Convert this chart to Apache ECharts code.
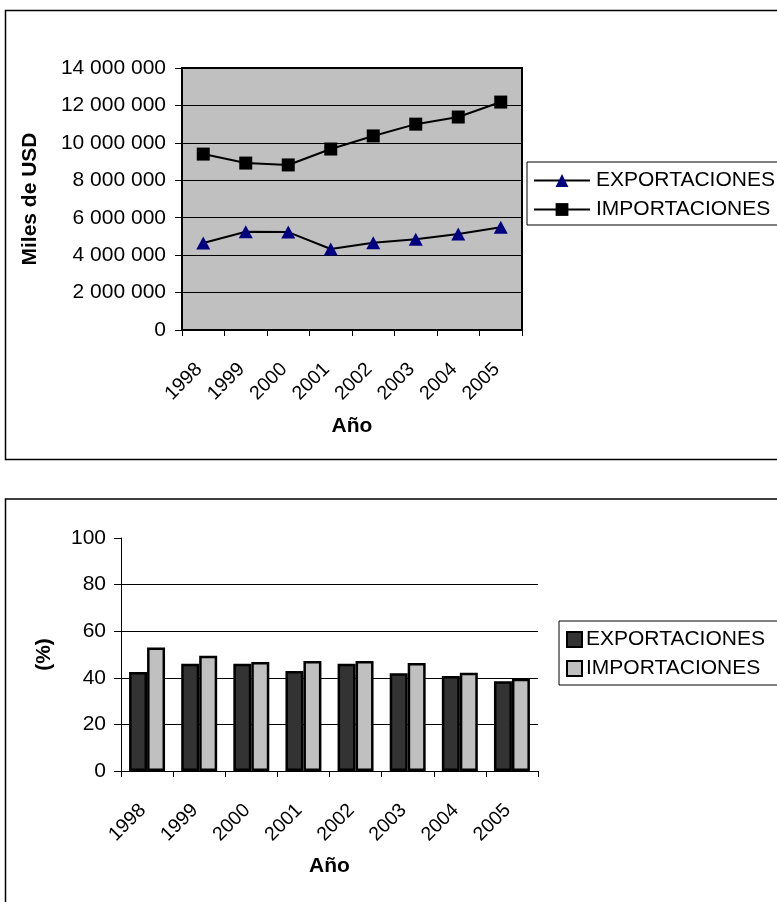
<!DOCTYPE html>
<html>
<head>
<meta charset="utf-8">
<script src="https://cdn.jsdelivr.net/npm/echarts@6/dist/echarts.min.js"></script>
<style>
  html, body { margin: 0; padding: 0; background: #fff; }
  #chart { width: 777px; height: 902px; }
</style>
</head>
<body>
<div id="chart"></div>
<script>
// Years on the category axis
const years = ['1998', '1999', '2000', '2001', '2002', '2003', '2004', '2005'];

// Trade values, thousands of USD
const exportaciones = [4650000, 5250000, 5230000, 4330000, 4660000, 4850000, 5130000, 5490000];
const importaciones = [9400000, 8920000, 8820000, 9670000, 10370000, 11000000, 11380000, 12180000];

// Shares in percent
const exportacionesPct = [42.5, 46.0, 46.0, 42.9, 46.0, 41.9, 40.8, 38.5];
const importacionesPct = [53.0, 49.5, 46.8, 47.2, 47.2, 46.4, 42.2, 39.6];

const FONT = 'Liberation Sans, Arial, sans-serif';
const FS = 21;

function thousands(v) {
  return String(v).replace(/\B(?=(\d{3})+(?!\d))/g, ' ');
}

const chart = echarts.init(document.getElementById('chart'), null, { renderer: 'canvas' });

const baseText = { fontFamily: FONT, fontSize: FS, color: '#000' };
const yearLabel = Object.assign({}, baseText, { fontSize: 19.5, rotate: 45, margin: 32, padding: [0, 6, 0, 0] });

chart.setOption({
  animation: false,
  backgroundColor: '#fff',
  textStyle: { fontFamily: FONT },
  graphic: [
    { type: 'rect', z: -10, silent: true,
      shape: { x: 5.5, y: 10.5, width: 820, height: 449 },
      style: { fill: 'none', stroke: '#000', lineWidth: 1.5 } },
    { type: 'rect', z: -10, silent: true,
      shape: { x: 5.5, y: 499, width: 820, height: 460 },
      style: { fill: 'none', stroke: '#000', lineWidth: 1.5 } }
  ],
  grid: [
    { left: 182, top: 68, width: 340, height: 262, show: true,
      backgroundColor: '#c0c0c0', borderColor: '#000', borderWidth: 2 },
    { left: 121, top: 538, width: 417, height: 233 }
  ],
  legend: [
    {
      left: 527, top: 162, orient: 'vertical',
      padding: [8, 12, 5, 6], itemGap: 8,
      itemWidth: 56, itemHeight: 16,
      borderColor: '#000', borderWidth: 1,
      textStyle: Object.assign({}, baseText, { padding: [0, 0, 0, 1] }),
      data: ['EXPORTACIONES', 'IMPORTACIONES']
    },
    {
      left: 559, top: 621, orient: 'vertical',
      padding: [8, 12, 6, 7], itemGap: 8,
      itemWidth: 15, itemHeight: 15,
      borderColor: '#000', borderWidth: 1,
      textStyle: Object.assign({}, baseText, { padding: [0, 0, 0, -1] }),
      data: [
        { name: 'EXPORTACIONES ', icon: 'rect' },
        { name: 'IMPORTACIONES ', icon: 'rect' }
      ]
    }
  ],
  xAxis: [
    {
      gridIndex: 0, type: 'category', data: years, boundaryGap: true,
      name: 'Año', nameLocation: 'middle', nameGap: 86,
      nameTextStyle: Object.assign({}, baseText, { fontWeight: 'bold' }),
      axisLine: { lineStyle: { color: '#000', width: 2 } },
      axisTick: { show: true, length: 6, lineStyle: { color: '#000', width: 1 } },
      axisLabel: yearLabel,
      splitLine: { show: false }
    },
    {
      gridIndex: 1, type: 'category', data: years, boundaryGap: true,
      name: 'Año', nameLocation: 'middle', nameGap: 85,
      nameTextStyle: Object.assign({}, baseText, { fontWeight: 'bold' }),
      axisLine: { lineStyle: { color: '#000', width: 1 } },
      axisTick: { show: true, length: 6, lineStyle: { color: '#000', width: 1 } },
      axisLabel: yearLabel,
      splitLine: { show: false }
    }
  ],
  yAxis: [
    {
      gridIndex: 0, type: 'value', min: 0, max: 14000000, interval: 2000000,
      name: 'Miles de USD', nameLocation: 'middle', nameGap: 141,
      nameTextStyle: Object.assign({}, baseText, { fontWeight: 'bold' }),
      axisLine: { show: true, lineStyle: { color: '#000', width: 2 } },
      axisTick: { show: true, length: 7, lineStyle: { color: '#000', width: 1 } },
      axisLabel: Object.assign({}, baseText, { margin: 16, formatter: thousands }),
      splitLine: { show: true, lineStyle: { color: '#000', width: 1 } }
    },
    {
      gridIndex: 1, type: 'value', min: 0, max: 100, interval: 20,
      name: '(%)', nameLocation: 'middle', nameGap: 66,
      nameTextStyle: Object.assign({}, baseText, { fontWeight: 'bold' }),
      axisLine: { show: true, lineStyle: { color: '#000', width: 1 } },
      axisTick: { show: true, length: 7, lineStyle: { color: '#000', width: 1 } },
      axisLabel: Object.assign({}, baseText, { margin: 15 }),
      splitLine: { show: true, lineStyle: {
        color: ['#000', '#000', '#000', '#000', '#000', 'rgba(0,0,0,0)'], width: 1 } }
    }
  ],
  series: [
    {
      name: 'EXPORTACIONES', type: 'line', xAxisIndex: 0, yAxisIndex: 0,
      data: exportaciones, symbol: 'triangle', symbolSize: [14, 13],
      lineStyle: { color: '#000', width: 2 },
      itemStyle: { color: '#000080', borderWidth: 0 }
    },
    {
      name: 'IMPORTACIONES', type: 'line', xAxisIndex: 0, yAxisIndex: 0,
      data: importaciones, symbol: 'rect', symbolSize: 13,
      lineStyle: { color: '#000', width: 2 },
      itemStyle: { color: '#000', borderWidth: 0 }
    },
    {
      name: 'EXPORTACIONES ', type: 'bar', xAxisIndex: 1, yAxisIndex: 1,
      data: exportacionesPct, barGap: '0%', barCategoryGap: '31%',
      itemStyle: { color: '#333333', borderColor: '#000', borderWidth: 2.5 }
    },
    {
      name: 'IMPORTACIONES ', type: 'bar', xAxisIndex: 1, yAxisIndex: 1,
      data: importacionesPct, barGap: '0%', barCategoryGap: '31%',
      itemStyle: { color: '#c0c0c0', borderColor: '#000', borderWidth: 2.5 }
    }
  ]
});
</script>
</body>
</html>
